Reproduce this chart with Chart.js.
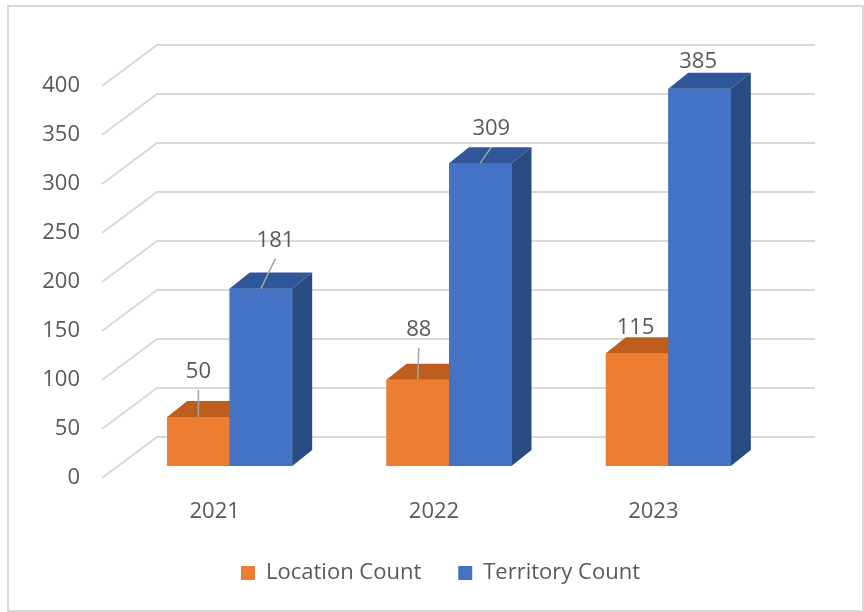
<!DOCTYPE html>
<html>
<head>
<meta charset="utf-8">
<script src="https://cdn.jsdelivr.net/npm/chart.js@4/dist/chart.umd.min.js"></script>
<style>
html,body{margin:0;padding:0;background:#fff;}
#wrap{width:864px;height:612px;position:relative;}
</style>
</head>
<body>
<div id="wrap"><canvas id="c" width="864" height="612"></canvas></div>
<script>
// ---- data ----
const categories = ['2021', '2022', '2023'];
const seriesNames = ['Location Count', 'Territory Count'];
const locationCount = [50, 88, 115];
const territoryCount = [181, 309, 385];
const yMin = 0, yMax = 400, yStep = 50;

// ---- style ----
const FONT = "'Open Sans', 'Noto Sans', sans-serif";
const TEXT = '#595959';
const GRID = '#D9D9D9';
const LEADER = '#A6A6A6';
const DEPTH = {dx: 20, dy: -16};                 // bar depth (top / side faces)
const WALL = {front: {dx: -18, dy: 12}, back: {dx: 37, dy: -29}};
const faceColors = [
  {front: '#ED7D31', top: '#BE5E1E', side: '#A9521A'},
  {front: '#4472C4', top: '#30569A', side: '#2A4A82'}
];
// label placement relative to each bar's top-front centre (px)
const labelOffsets = [
  [[0, -45], [1, -50], [-1.5, -26]],
  [[14.5, -48], [11, -34], [-1.5, -27]]
];

const frameplugin = {
  id: 'frame',
  beforeDraw(chart) {
    const ctx = chart.ctx;
    ctx.save();
    ctx.fillStyle = '#fff';
    ctx.fillRect(0, 0, chart.width, chart.height);
    ctx.strokeStyle = GRID;
    ctx.lineWidth = 2;
    ctx.strokeRect(8, 6, chart.width - 9, chart.height - 7);
    ctx.restore();
  }
};

const wallPlugin = {
  id: 'walls',
  beforeDatasetsDraw(chart) {
    const ctx = chart.ctx, ys = chart.scales.y, a = chart.chartArea;
    ctx.save();
    ctx.strokeStyle = GRID;
    ctx.lineWidth = 2;
    ys.ticks.forEach(t => {
      const py = ys.getPixelForValue(t.value);
      ctx.beginPath();
      ctx.moveTo(a.left + WALL.front.dx, py + WALL.front.dy);
      ctx.lineTo(a.left + WALL.back.dx, py + WALL.back.dy);
      ctx.lineTo(a.right + WALL.back.dx, py + WALL.back.dy);
      ctx.stroke();
    });
    ctx.restore();
  }
};

// draws each bar as a box, series in index order so the right-hand
// (deeper-drawn) bar covers the side of the one on its left
const boxPlugin = {
  id: 'box3d',
  afterDatasetsDraw(chart) {
    const ctx = chart.ctx;
    chart.data.datasets.forEach((ds, di) => {
      const meta = chart.getDatasetMeta(di);
      const c = faceColors[di];
      meta.data.forEach(el => {
        el.draw(ctx, chart.chartArea);   // front face via the library element
        const p = el.getProps(['x', 'y', 'base', 'width'], true);
        const l = p.x - p.width / 2, r = p.x + p.width / 2;
        ctx.save();
        ctx.fillStyle = c.top;
        ctx.beginPath();
        ctx.moveTo(l, p.y);
        ctx.lineTo(r, p.y);
        ctx.lineTo(r + DEPTH.dx, p.y + DEPTH.dy);
        ctx.lineTo(l + DEPTH.dx, p.y + DEPTH.dy);
        ctx.closePath();
        ctx.fill();
        ctx.fillStyle = c.side;
        ctx.beginPath();
        ctx.moveTo(r, p.y);
        ctx.lineTo(r + DEPTH.dx, p.y + DEPTH.dy);
        ctx.lineTo(r + DEPTH.dx, p.base + DEPTH.dy);
        ctx.lineTo(r, p.base);
        ctx.closePath();
        ctx.fill();
        ctx.restore();
      });
    });
  }
};

const labelPlugin = {
  id: 'valueLabels',
  afterDatasetsDraw(chart) {
    const ctx = chart.ctx;
    ctx.save();
    ctx.font = '22px ' + FONT;
    ctx.textAlign = 'center';
    ctx.textBaseline = 'middle';
    chart.data.datasets.forEach((ds, di) => {
      const meta = chart.getDatasetMeta(di);
      meta.data.forEach((el, i) => {
        const p = el.getProps(['x', 'y'], true);
        const off = labelOffsets[di][i];
        const lx = p.x + off[0], ly = p.y + off[1];
        if (off[1] < -30) {
          ctx.strokeStyle = LEADER;
          ctx.lineWidth = 1.5;
          ctx.beginPath();
          ctx.moveTo(lx, ly + 18);
          ctx.lineTo(p.x, p.y);
          ctx.stroke();
        }
        ctx.fillStyle = TEXT;
        ctx.fillText(String(ds.data[i]), lx, ly);
      });
    });
    ctx.restore();
  }
};

new Chart(document.getElementById('c'), {
  type: 'bar',
  data: {
    labels: categories,
    datasets: [
      {label: seriesNames[0], data: locationCount, backgroundColor: faceColors[0].front, borderWidth: 0},
      {label: seriesNames[1], data: territoryCount, backgroundColor: faceColors[1].front, borderWidth: 0}
    ]
  },
  options: {
    responsive: false,
    animation: false,
    devicePixelRatio: 1,
    layout: {padding: {top: 74, left: 17, right: 0, bottom: 18}},
    datasets: {bar: {categoryPercentage: 0.57, barPercentage: 1}},
    plugins: {
      legend: {
        position: 'bottom',
        labels: {boxWidth: 14, boxHeight: 14, padding: 37, color: TEXT, font: {family: FONT, size: 22}}
      },
      tooltip: {enabled: false}
    },
    scales: {
      x: {
        grid: {display: false, drawTicks: false},
        border: {display: false},
        ticks: {color: TEXT, font: {family: FONT, size: 22}, padding: 33, labelOffset: -15},
        afterFit(s) { s.height = 59; }
      },
      y: {
        min: yMin, max: yMax,
        grid: {display: false, drawTicks: false},
        border: {display: false},
        ticks: {stepSize: yStep, color: TEXT, font: {family: FONT, size: 22}, padding: 40, labelOffset: 12},
        afterFit(s) { s.width = 103; }
      },
      yR: {
        position: 'right',
        grid: {display: false, drawTicks: false},
        border: {display: false},
        ticks: {display: false},
        afterFit(s) { s.width = 86; }
      }
    }
  },
  plugins: [frameplugin, wallPlugin, boxPlugin, labelPlugin]
});
</script>
</body>
</html>
